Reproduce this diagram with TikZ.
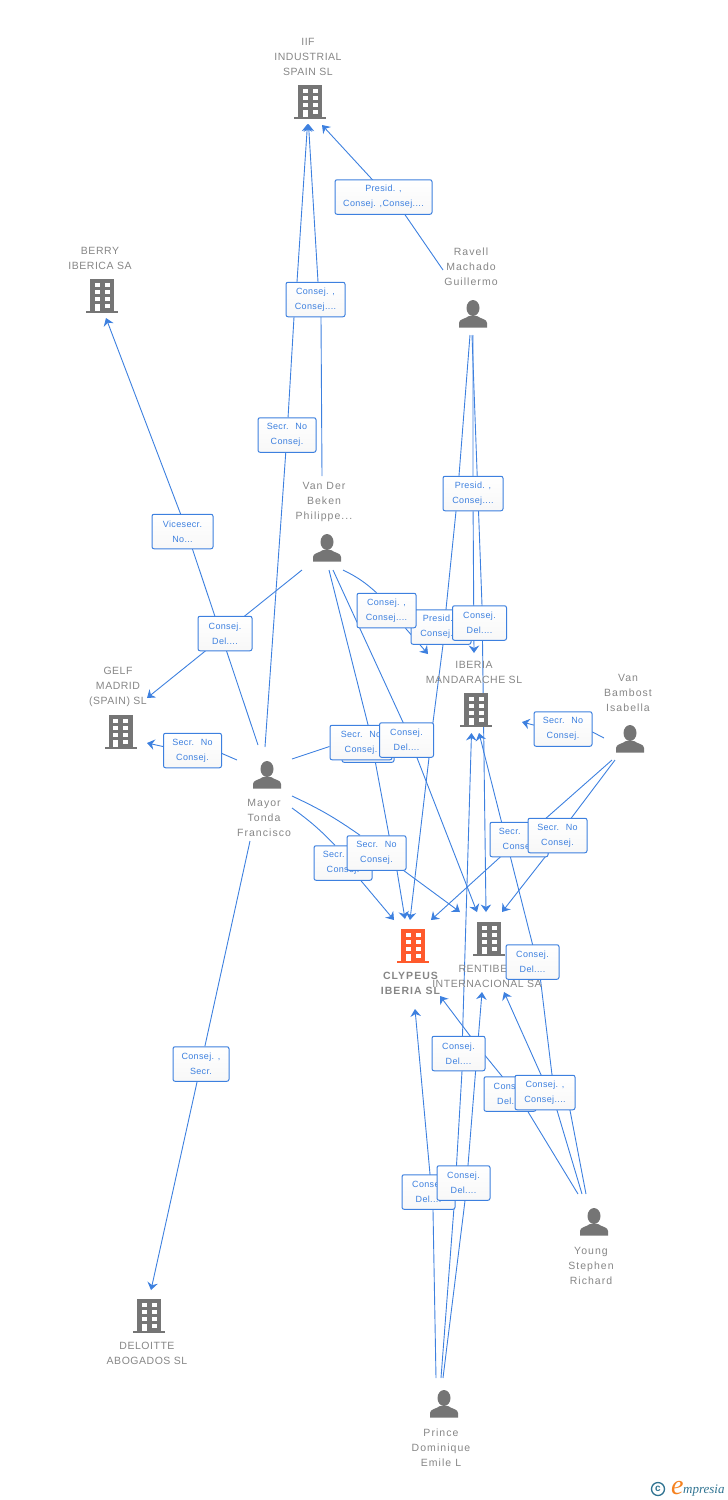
\documentclass[tikz,border=0pt]{standalone}
\usepackage{fontspec}
\usetikzlibrary{arrows.meta,backgrounds}
\setmainfont{Liberation Sans}
\newfontfamily\boxfont[LetterSpace=4]{Liberation Sans}
\newfontfamily\namefont[LetterSpace=5]{Liberation Sans}
\newfontfamily\personfont[LetterSpace=10]{Liberation Sans}
\newfontfamily\logofont{Liberation Serif}
\definecolor{linkblue}{HTML}{3D80DF}
\definecolor{icongray}{HTML}{757575}
\definecolor{nameblack}{HTML}{868686}
\definecolor{iconorange}{HTML}{FF5A2C}
\definecolor{logoteal}{HTML}{2F7391}
\definecolor{logoorange}{HTML}{F58220}
\tikzset{
    link/.style={linkblue, line width=0.9pt},
    tip/.style={link, -{Stealth[length=7.5pt,width=10.5pt,inset=2.5pt]}},
    boxlabel/.style={draw=linkblue, line width=1pt, rounded corners=2pt, top color=white, bottom color=black!3,
        text=linkblue, align=center, inner sep=0pt, minimum height=34.5pt, minimum width=#1,
        font=\boxfont\fontsize{9}{15}\selectfont},
    boxlabel/.default=58pt,
    namelabel/.style={text=nameblack, align=center, inner sep=0pt, font=\namefont\fontsize{10.5}{15}\selectfont},
    personlabel/.style={namelabel, font=\personfont\fontsize{10.5}{15}\selectfont},
    pics/buildingicon/.style={code={
        \fill[#1] (-12,-17) rectangle (12,15);
        \fill[#1] (-16,15) rectangle (16,17);
        \foreach \wy in {-11,-4,3} {
            \fill[white] (-7.5,\wy-2) rectangle (-2.5,\wy+2);
            \fill[white] (2.5,\wy-2) rectangle (7.5,\wy+2);
        }
        \fill[white] (-7.5,8) rectangle (-2.5,15);
        \fill[white] (2.5,8) rectangle (7.5,12);
    }},
    pics/personicon/.style={code={
        \fill[icongray] (0,-6) ellipse (6.5 and 8);
        \fill[icongray] (-14,13.5) -- (-14,9) .. controls (-14,5) and (-8,5) .. (-4,2) -- (4,2)
            .. controls (8,5) and (14,5) .. (14,9) -- (14,13.5) -- cycle;
    }},
}

\begin{document}
\begin{tikzpicture}[x=1pt, y=-1pt]

    \useasboundingbox (0,0) rectangle (728,1500);

    % Icons
    \pic at (310,102) {buildingicon=icongray};
    \pic at (102,296) {buildingicon=icongray};
    \pic at (120.5,732) {buildingicon=icongray};
    \pic at (476,710) {buildingicon=icongray};
    \pic at (489,939) {buildingicon=icongray};
    \pic at (413,946) {buildingicon=iconorange};
    \pic at (149,1316) {buildingicon=icongray};
    \pic at (473,314) {personicon};
    \pic at (327,548) {personicon};
    \pic at (267,775) {personicon};
    \pic at (630,739) {personicon};
    \pic at (594,1222) {personicon};
    \pic at (444,1404) {personicon};

    % Names
    \node[namelabel] (iif) at (308,56.5) {IIF\\INDUSTRIAL\\SPAIN SL};
    \node[namelabel] (berry) at (100,258) {BERRY\\IBERICA SA};
    \node[personlabel] (ravell) at (471,266.5) {Ravell\\Machado\\Guillermo};
    \node[personlabel] (vander) at (324,501.5) {Van Der\\Beken\\Philippe...};
    \node[namelabel] (gelf) at (118,686.5) {GELF\\MADRID\\(SPAIN) SL};
    \node[namelabel] (iberia) at (474,672) {IBERIA\\MANDARACHE SL};
    \node[personlabel] (bambost) at (628,692.5) {Van\\Bambost\\Isabella};
    \node[personlabel] (mayor) at (264,817.5) {Mayor\\Tonda\\Francisco};
    \node[namelabel] (rentiber) at (487,976) {RENTIBER\\INTERNACIONAL SA};
    \node[personlabel, font=\personfont\bfseries\fontsize{10.5}{15}\selectfont] (clypeus) at (410.5,983) {CLYPEUS\\IBERIA SL};
    \node[namelabel] (deloitte) at (147,1353) {DELOITTE\\ABOGADOS SL};
    \node[personlabel] (young) at (591,1265.5) {Young\\Stephen\\Richard};
    \node[personlabel] (prince) at (441,1447.5) {Prince\\Dominique\\Emile L};

    % Role boxes, later ones lie on top
    \node[boxlabel=97pt] (presidA) at (383.5,197) {Presid. ,\\Consej. ,Consej....};
    \node[boxlabel=59pt] (consejA) at (315.5,299.5) {Consej. ,\\Consej....};
    \node[boxlabel] (secrA) at (287,435) {Secr.~ No\\Consej.};
    \node[boxlabel=61pt] (vicesecr) at (182.5,531.5) {Vicesecr.\\No...};
    \node[boxlabel=54pt] (consejDelA) at (225,633.5) {Consej.\\Del....};
    \node[boxlabel=60pt] (presidC) at (473,493.5) {Presid. ,\\Consej....};
    \node[boxlabel=60pt] (presidD) at (441,627) {Presid. ,\\Consej....};
    \node[boxlabel=59pt] (consejB) at (386.5,610.5) {Consej. ,\\Consej....};
    \node[boxlabel=54pt] (consejDelC) at (479.5,623) {Consej.\\Del....};
    \node[boxlabel] (secrC) at (192.5,750.5) {Secr.~ No\\Consej.};
    \node[boxlabel=52pt] (secrHid) at (368,745) {Secr.~ No\\Consej.};
    \node[boxlabel=62pt] (secrB) at (361,742.5) {Secr.~ No\\Consej.};
    \node[boxlabel=54pt] (consejDelB) at (406.5,740) {Consej.\\Del....};
    \node[boxlabel] (secrH) at (563,729) {Secr.~ No\\Consej.};
    \node[boxlabel] (secrE) at (343,863) {Secr.~ No\\Consej.};
    \node[boxlabel=59pt] (secrD) at (376.5,853) {Secr.~ No\\Consej.};
    \node[boxlabel] (secrF) at (519,839.5) {Secr.~ No\\Consej.};
    \node[boxlabel=59pt] (secrG) at (557.5,835.5) {Secr.~ No\\Consej.};
    \node[boxlabel=53pt] (consejDelF) at (532.5,962) {Consej.\\Del....};
    \node[boxlabel=53pt] (consejDelD) at (458.5,1053.5) {Consej.\\Del....};
    \node[boxlabel=52pt] (consejDelE) at (510,1094) {Consej.\\Del....};
    \node[boxlabel=60pt] (consejF) at (545,1092.5) {Consej. ,\\Consej....};
    \node[boxlabel=56pt] (consejSecr) at (201,1064) {Consej. ,\\Secr.};
    \node[boxlabel=53pt] (consejDelG) at (428.5,1192) {Consej.\\Del....};
    \node[boxlabel=53pt] (consejDelH) at (463.5,1183) {Consej.\\Del....};

    % Free ends of the connectors
    \foreach \endname/\ex/\ey in {
        ravellA/443/270, ravellB/470/335, ravellC/473/335, ravellD/472/335,
        vanderA/322/476, vanderB/302/570, vanderC/343/570, vanderD/329/570, vanderE/333/570,
        mayorA/265/747, mayorB/258/745, mayorC/237/760, mayorD/250/841,
        mayorE/292/759, mayorF/292/796, mayorG/292/808,
        bambostA/604/738, bambostB/612/760, bambostC/615/760,
        youngA/578/1194, youngB/582/1194, youngC/586/1194,
        princeA/436/1378, princeB/441/1378, princeC/443/1378,
        tipIifA/322/125, tipIifB/308.5/124, tipIifC/307.5/124, tipBerry/106/318,
        tipGelfA/147/698, tipGelfB/147/743, tipDeloitte/151/1290,
        tipIberiaA/474/653, tipIberiaB/428/654, tipIberiaC/522/722,
        tipIberiaD/479/733, tipIberiaE/471.5/733,
        tipClypeusA/410/920, tipClypeusB/405/919, tipClypeusC/394/920,
        tipClypeusD/431/920, tipClypeusE/440/996, tipClypeusF/415/1009,
        tipRentiberA/486/912, tipRentiberB/477/912, tipRentiberC/460/912,
        tipRentiberD/502/912, tipRentiberE/504/992, tipRentiberF/482/992}
        \coordinate (\endname) at (\ex,\ey);

    % Connectors
    \begin{scope}[on background layer]
        \draw[tip] (ravellA) -- ([xshift=21.5pt]presidA.south) -- ([xshift=-11.5pt]presidA.north) -- (tipIifA);
        \draw[tip] (vanderA) -- ([xshift=5.5pt]consejA.south) -- ([xshift=2.5pt]consejA.north) -- (tipIifB);
        \draw[tip] (mayorA) -- (secrA) -- ([xshift=-21.5pt]consejA.south) -- ([xshift=-18.5pt]consejA.north) -- (tipIifC);
        \draw[tip] (mayorB) -- ([xshift=10pt]vicesecr.south) -- ([xshift=-2pt]vicesecr.north) -- (tipBerry);
        \draw[tip] (vanderB) -- ([xshift=20pt]consejDelA.north) -- ([xshift=-20pt]consejDelA.south) -- (tipGelfA);
        \draw[tip] (mayorC) -- ([yshift=-3pt]secrC.east) -- ([yshift=4pt]secrC.west) -- (tipGelfB);
        \draw[tip] (mayorD) -- (consejSecr) -- (tipDeloitte);

        \draw[tip] (ravellB) -- ([xshift=-14pt]presidC.north) -- ([xshift=-17pt]presidC.south)
            -- ([xshift=5pt]presidD.north) -- ([xshift=2pt]presidD.south)
            -- ([xshift=26.5pt]consejDelB.north) -- ([xshift=22.5pt]consejDelB.south) -- (tipClypeusA);
        \draw[tip] (ravellC) -- (presidC) -- (tipIberiaA);
        \draw[tip] (ravellD) -- ([xshift=2.5pt]consejDelC.north) -- ([xshift=3pt]consejDelC.south) -- (tipRentiberA);

        \draw[link] (vanderC) to[bend left=8] ([xshift=-10pt]consejB.north);
        \draw[tip] ([xshift=19pt]consejB.south) -- (tipIberiaB);
        \draw[tip] (vanderD) -- ([xshift=7pt]secrB.north) -- ([xshift=14pt]secrB.south)
            -- ([xshift=12.5pt]secrD.north) -- ([xshift=20.5pt]secrD.south) -- (tipClypeusB);
        \draw[tip] (vanderE) -- ([xshift=-3.5pt]consejDelB.north) -- ([xshift=10.5pt]consejDelB.south) -- (tipRentiberB);

        \draw[link] (mayorE) -- ([yshift=-4pt]secrB.west);
        \draw[link] (mayorF) to[bend left=5] ([xshift=-16.5pt]secrD.north);
        \draw[tip] ([xshift=27.5pt]secrD.south) -- (tipRentiberC);
        \draw[link] (mayorG) to[bend left=5] ([xshift=-8pt]secrE.north);
        \draw[tip] ([xshift=18pt]secrE.south) -- (tipClypeusC);

        \draw[tip] (bambostA) -- ([yshift=-3pt]secrH.east) -- ([yshift=4pt]secrH.west) -- (tipIberiaC);
        \draw[tip] (bambostB) -- ([xshift=23pt]secrF.north) -- ([xshift=-19pt]secrF.south) -- (tipClypeusD);
        \draw[tip] (bambostC) -- ([xshift=14pt]secrG.north) -- ([xshift=-9.5pt]secrG.south) -- (tipRentiberD);

        \draw[tip] (youngA) -- ([xshift=18pt]consejDelE.south) -- ([xshift=-8pt]consejDelE.north)
            -- ([yshift=-2.5pt]consejDelD.east) -- ([xshift=11.5pt]consejDelD.north) -- (tipClypeusE);
        \draw[tip] (youngB) -- ([xshift=12pt]consejF.south) -- ([xshift=-4pt]consejF.north) -- (tipRentiberE);
        \draw[tip] (youngC) -- ([xshift=25pt]consejF.south) -- ([xshift=7pt]consejF.north)
            -- ([xshift=8pt]consejDelF.south) -- (consejDelF.north) -- (tipIberiaD);

        \draw[tip] (princeA) -- ([xshift=4.5pt]consejDelG.south) -- ([xshift=1.5pt]consejDelG.north) -- (tipClypeusF);
        \draw[tip] (princeB) -- ([xshift=-9pt]consejDelH.south) -- ([xshift=-7pt]consejDelH.north)
            -- ([xshift=3.5pt]consejDelD.south) -- ([xshift=4pt]consejDelD.north) -- (tipIberiaE);
        \draw[tip] (princeC) -- ([xshift=1.5pt]consejDelH.south) -- ([xshift=4.5pt]consejDelH.north) -- (tipRentiberF);
    \end{scope}

    % Logo in the corner
    \node[draw=logoteal, line width=1.3pt, circle, inner sep=0pt, minimum size=13pt, text=logoteal,
        font=\bfseries\fontsize{10}{10}\selectfont] (logoc) at (658,1489) {c};
    \node[text=logoorange, inner sep=0pt, anchor=base west, font=\logofont\itshape\fontsize{28}{28}\selectfont] (logoe) at (671,1494) {e};
    \node[text=logoteal, inner sep=0pt, anchor=base west, font=\logofont\itshape\fontsize{13}{13}\selectfont] (logotext) at (683,1493) {mpresia};

\end{tikzpicture}
\end{document}
